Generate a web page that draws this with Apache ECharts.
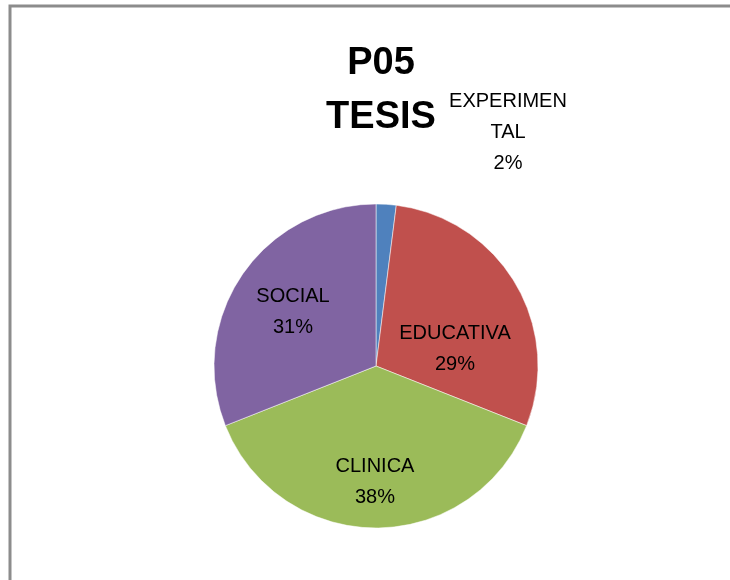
<!DOCTYPE html>
<html>
<head>
<meta charset="utf-8">
<script src="https://cdn.jsdelivr.net/npm/echarts@6/dist/echarts.min.js"></script>
<style>
  html, body { margin: 0; padding: 0; background: #fff; }
  #chart { width: 730px; height: 580px; }
</style>
</head>
<body>
<div id="chart"></div>
<script>
const categories = ["EXPERIMENTAL", "EDUCATIVA", "CLINICA", "SOCIAL"];
const labelNames = ["EXPERIMEN\nTAL", "EDUCATIVA", "CLINICA", "SOCIAL"];
const values = [2, 29, 38, 31];
const colors = ["#4F81BD", "#C0504D", "#9BBB59", "#8064A2"];
// label centres (text blocks, not marks)
const labelSpots = [[508, 132], [455, 349], [375, 482], [293, 312]];

const chart = echarts.init(document.getElementById("chart"));

const options = {
  animation: false,
  color: colors,
  title: {
    text: "P05\nTESIS",
    left: 376,
    top: 32,
    textAlign: "center",
    textStyle: {
      fontFamily: "Liberation Sans",
      fontSize: 38,
      fontWeight: "bold",
      color: "#000",
      lineHeight: 54,
    },
  },
  graphic: [
    {
      type: "polyline",
      shape: { points: [[10, 580], [10, 6], [730, 6]] },
      style: { stroke: "#8c8c8c", lineWidth: 3, fill: null },
      silent: true,
    },
  ],
  series: [
    {
      type: "pie",
      center: [376, 366],
      radius: 162,
      startAngle: 90,
      clockwise: true,
      itemStyle: { borderColor: "rgba(255,255,255,0.5)", borderWidth: 1 },
      label: {
        show: true,
        position: "inside",
        fontFamily: "Liberation Sans",
        fontSize: 20,
        lineHeight: 31,
        color: "#000",
        align: "center",
        formatter: (p) => `${labelNames[p.dataIndex]}\n${values[p.dataIndex]}%`,
      },
      labelLine: { show: false },
      labelLayout: (params) => ({
        x: labelSpots[params.dataIndex][0],
        y: labelSpots[params.dataIndex][1],
        align: "center",
        verticalAlign: "middle",
      }),
      data: categories.map((name, i) => ({ name, value: values[i] })),
    },
  ],
};

chart.setOption(options);
</script>
</body>
</html>
